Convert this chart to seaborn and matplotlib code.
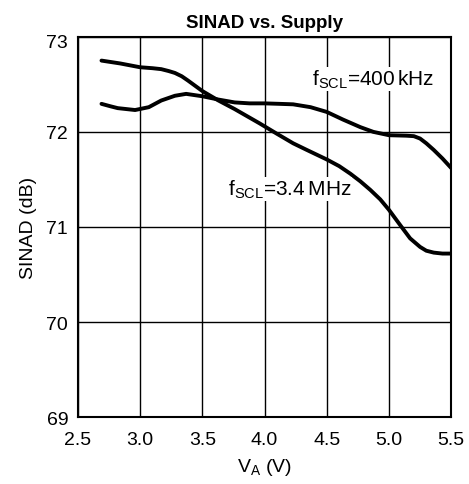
import numpy as np
import pandas as pd
import matplotlib
matplotlib.use("Agg")
import matplotlib.pyplot as plt
import matplotlib.transforms as mtransforms
import seaborn as sns

# values
va_34mhz = [2.69, 2.84, 3.0, 3.1, 3.17, 3.23, 3.28, 3.335, 3.385, 3.5, 3.63, 3.76, 3.88, 3.96, 4.1, 4.23, 4.34,
            4.5, 4.6, 4.69, 4.77, 4.85, 4.93, 5.0, 5.09, 5.17, 5.25, 5.3, 5.36, 5.43, 5.5]
sinad_34mhz = [72.75, 72.72, 72.68, 72.67, 72.66, 72.64, 72.62, 72.585, 72.54, 72.43, 72.33, 72.24, 72.15, 72.09,
               71.98, 71.88, 71.81, 71.71, 71.64, 71.56, 71.48, 71.39, 71.29, 71.18, 71.02, 70.88, 70.79, 70.75,
               70.73, 70.72, 70.72]

va_400khz = [2.69, 2.76, 2.82, 2.96, 3.07, 3.17, 3.28, 3.37, 3.5, 3.63, 3.76, 3.88, 4.0, 4.12,
             4.23, 4.37, 4.5, 4.63, 4.77, 4.875, 5.0, 5.14, 5.2, 5.25, 5.3, 5.36, 5.43, 5.5]
sinad_400khz = [72.295, 72.27, 72.25, 72.23, 72.26, 72.33, 72.38, 72.40, 72.375, 72.34, 72.31, 72.30, 72.30, 72.295,
                72.29, 72.26, 72.21, 72.13, 72.05, 72.0, 71.965, 71.96, 71.955, 71.93, 71.88, 71.81, 71.72, 71.62]

df = pd.concat([
    pd.DataFrame({"va": va_34mhz, "sinad": sinad_34mhz, "fscl": "3.4 MHz"}),
    pd.DataFrame({"va": va_400khz, "sinad": sinad_400khz, "fscl": "400 kHz"}),
])

sns.set_style("white")
plt.rcParams["font.family"] = ["Liberation Sans", "DejaVu Sans"]
plt.rcParams["mathtext.fontset"] = "custom"
plt.rcParams["mathtext.rm"] = "Liberation Sans"
plt.rcParams["text.color"] = "black"
plt.rcParams["axes.labelcolor"] = "black"

fig = plt.figure(figsize=(4.69, 4.85), dpi=100)
ax = fig.add_axes([0.166, 0.138, 0.796, 0.784])

sns.lineplot(data=df, x="va", y="sinad", hue="fscl", palette=["black", "black"],
             linewidth=2.8, legend=False, ax=ax, sort=True, estimator=None)

ax.set_xlim(2.5, 5.5)
ax.set_ylim(69, 73)
ax.set_xticks(np.arange(2.5, 5.51, 0.5))
ax.set_yticks([69, 70, 71, 72, 73])
ax.set_xticklabels(["2.5", "3.0", "3.5", "4.0", "4.5", "5.0", "5.5"])
ax.grid(True, color="black", linewidth=1.0)
for s in ax.spines.values():
    s.set_color("black")
    s.set_linewidth(1.5)
ax.tick_params(axis="x", labelsize=14, length=0, pad=10, colors="black")
ax.tick_params(axis="y", labelsize=14, length=0, pad=7, colors="black")

# the 73 label sits a little low in the original
lbls = ax.get_yticklabels()
lbls[-1].set_transform(lbls[-1].get_transform() + mtransforms.ScaledTranslation(0, -3 / 72, fig.dpi_scale_trans))

ax.set_title("SINAD vs. Supply", fontsize=13.5, fontweight="bold", pad=7)
ax.set_xlabel("V$_\\mathregular{A}$ (V)", fontsize=14, labelpad=6)
ax.set_ylabel("SINAD (dB)", fontsize=14, labelpad=7)

ax.text(4.87, 72.56, "f$_\\mathregular{SCL}$=400$\\,$kHz", fontsize=15, ha="center", va="center",
        bbox=dict(facecolor="white", edgecolor="none", pad=0.5))
ax.text(4.205, 71.40, "f$_\\mathregular{SCL}$=3.4$\\,$MHz", fontsize=15, ha="center", va="center",
        bbox=dict(facecolor="white", edgecolor="none", pad=0.5))

fig.savefig("out.png", dpi=100)
